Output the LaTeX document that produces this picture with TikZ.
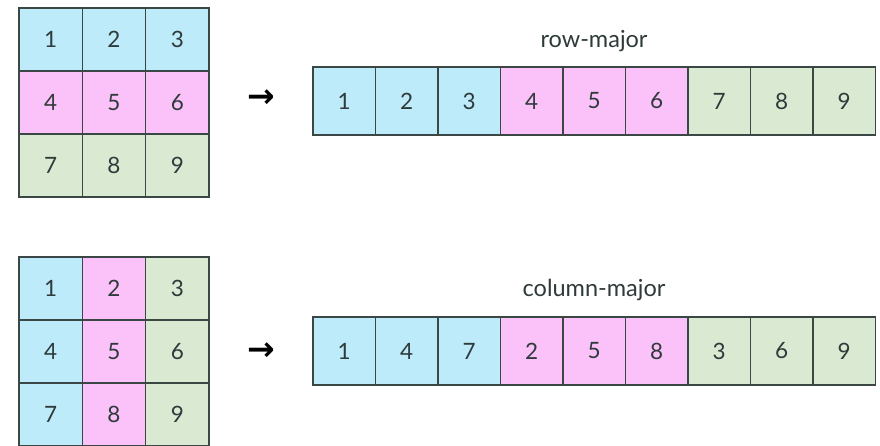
\documentclass[tikz,border=0pt]{standalone}
\usepackage{fontspec}
\setmainfont{Lato}
\newfontfamily\arrowfont{DejaVu Sans}
\definecolor{cblue}{HTML}{BDEBFA}
\definecolor{cpink}{HTML}{FBC2FA}
\definecolor{cgreen}{HTML}{DAEAD2}
\definecolor{cline}{HTML}{3A4745}
\definecolor{ctext}{HTML}{2F3A3A}
\begin{document}
\begin{tikzpicture}[x=1pt,y=-1pt,
  cellbase/.style={draw=cline, line width=1.4pt, inner sep=0pt, outer sep=0pt,
    anchor=north west, text=ctext, font=\fontsize{22.5}{22.5}\selectfont},
  gridcell/.style={cellbase, minimum width=63.33pt, minimum height=63pt},
  stripcell/.style={cellbase, minimum width=62.5pt, minimum height=68pt},
  lbl/.style={text=ctext, font=\fontsize{23.5}{23.5}\selectfont, inner sep=0pt, anchor=base},
  arr/.style={text=black, font=\arrowfont\bfseries\fontsize{33}{33}\selectfont, inner sep=0pt}]
\clip (0,0) rectangle (880,445);
\fill[white] (0,0) rectangle (880,445);
% top grid (row colours)
\foreach \n/\c/\r/\col in {1/0/0/cblue,2/1/0/cblue,3/2/0/cblue,
  4/0/1/cpink,5/1/1/cpink,6/2/1/cpink,
  7/0/2/cgreen,8/1/2/cgreen,9/2/2/cgreen}
  \node[gridcell, fill=\col] (ta\n) at (19+63.33*\c, 8+63*\r) {\n};
% top strip
\foreach \n/\i/\col in {1/0/cblue,2/1/cblue,3/2/cblue,4/3/cpink,5/4/cpink,6/5/cpink,7/6/cgreen,8/7/cgreen,9/8/cgreen}
  \node[stripcell, fill=\col] (ts\n) at (313+62.5*\i, 67) {\n};
\node[lbl] (labTop) at (594,47.3) {row-major};
\node[arr] (arrTop) at (261,99) {→};
% bottom grid (column colours)
\foreach \n/\c/\r/\col in {1/0/0/cblue,2/1/0/cpink,3/2/0/cgreen,
  4/0/1/cblue,5/1/1/cpink,6/2/1/cgreen,
  7/0/2/cblue,8/1/2/cpink,9/2/2/cgreen}
  \node[gridcell, fill=\col] (ba\n) at (19+63.33*\c, 257+63*\r) {\n};
% bottom strip
\foreach \n/\i/\col in {1/0/cblue,4/1/cblue,7/2/cblue,2/3/cpink,5/4/cpink,8/5/cpink,3/6/cgreen,6/7/cgreen,9/8/cgreen}
  \node[stripcell, fill=\col] (bs\n) at (313+62.5*\i, 317) {\n};
\node[lbl] (labBot) at (594,296.5) {column-major};
\node[arr] (arrBot) at (261,352) {→};
\end{tikzpicture}
\end{document}
